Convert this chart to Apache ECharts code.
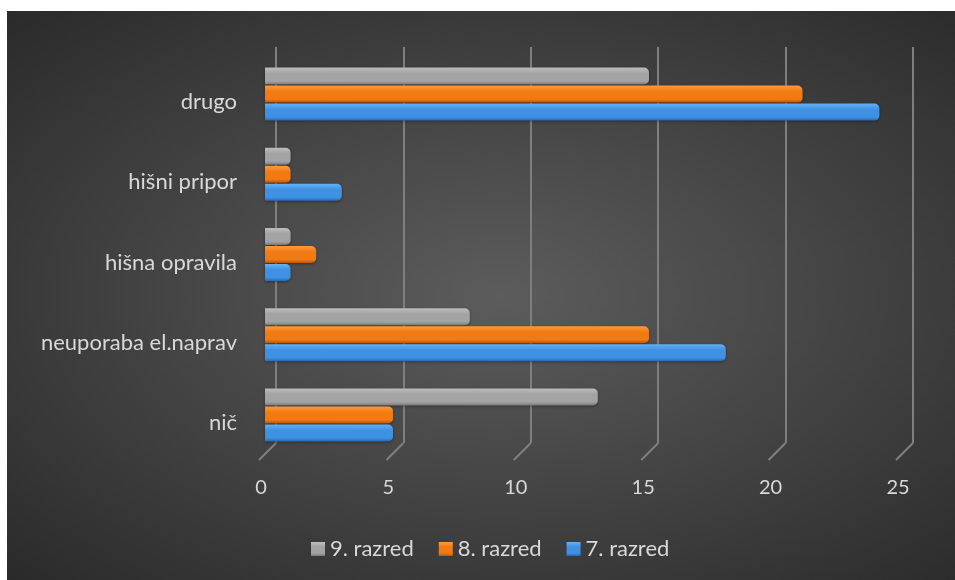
<!DOCTYPE html>
<html>
<head>
<meta charset="utf-8">
<script src="https://cdn.jsdelivr.net/npm/echarts@6/dist/echarts.min.js"></script>
<style>
  html, body { margin: 0; padding: 0; background: #ffffff; width: 955px; height: 580px; overflow: hidden; }
  #chart { position: absolute; left: 7px; top: 11px; width: 948px; height: 569px;
    background: radial-gradient(ellipse at 52% 50%, #5c5c5c 0%, #464646 45%, #2a2a2a 100%); }
</style>
</head>
<body>
<div id="chart"></div>
<script>
// Categories bottom -> top
const categories = ['nič', 'neuporaba el.naprav', 'hišna opravila', 'hišni pripor', 'drugo'];
const razred9 = [13, 8, 1, 1, 15];
const razred8 = [5, 15, 2, 1, 21];
const razred7 = [5, 18, 1, 3, 24];
const seriesNames = ['9. razred', '8. razred', '7. razred'];
const xTicks = [0, 5, 10, 15, 20, 25];

const FONT = 'Lato';
const TEXT = '#d9d9d9';

function grad(top, mid, bottom) {
  return new echarts.graphic.LinearGradient(0, 0, 0, 1, [
    { offset: 0, color: top },
    { offset: 0.35, color: mid },
    { offset: 0.8, color: mid },
    { offset: 1, color: bottom }
  ]);
}
const colors = [
  grad('#bdbdbd', '#a3a3a3', '#7a7a7a'),
  grad('#ff9a3c', '#f27a12', '#b8560a'),
  grad('#63b0f5', '#3f91e3', '#2a67ab')
];
const dataSets = [razred9, razred8, razred7];

const chart = echarts.init(document.getElementById('chart'));
chart.setOption({
  backgroundColor: 'transparent',
  animation: false,
  textStyle: { fontFamily: FONT },
  legend: {
    data: seriesNames,
    left: 304,
    top: 527,
    padding: 0,
    itemWidth: 14,
    itemHeight: 14,
    itemGap: 25,
    icon: 'rect',
    textStyle: { color: TEXT, fontSize: 22, fontFamily: FONT }
  },
  grid: [
    { left: 258, right: 50, top: 43, bottom: 125, containLabel: false },
    { left: 269, right: 42, top: 36, bottom: 137, containLabel: false }
  ],
  xAxis: [
    { gridIndex: 0, type: 'value', min: 0, max: 25, interval: 5,
      axisLine: { show: false }, axisTick: { show: false }, axisLabel: { show: false }, splitLine: { show: false } },
    { gridIndex: 1, type: 'value', min: 0, max: 25, interval: 5,
      axisLine: { show: false }, axisTick: { show: false },
      axisLabel: { color: TEXT, fontSize: 20, fontFamily: FONT, margin: 35, padding: [0, 30, 0, 0],
        formatter: function (v) { return xTicks.indexOf(v) >= 0 ? String(v) : ''; } },
      splitLine: { show: true, lineStyle: { color: '#7f7f7f', width: 2 } } }
  ],
  yAxis: [
    { gridIndex: 0, type: 'category', data: categories,
      axisLine: { show: false }, axisTick: { show: false }, splitLine: { show: false },
      axisLabel: { color: TEXT, fontSize: 22, fontFamily: FONT, margin: 28,
        verticalAlign: 'top', lineHeight: 16 } },
    { gridIndex: 1, type: 'value', min: 0, max: 1, show: false }
  ],
  series: [
    {
      type: 'custom',
      xAxisIndex: 1, yAxisIndex: 1,
      silent: true,
      data: xTicks.map(function (t) { return [t, 0]; }),
      renderItem: function (params, api) {
        const p = api.coord([api.value(0), api.value(1)]);
        return {
          type: 'line',
          shape: { x1: p[0], y1: p[1], x2: p[0] - 17, y2: p[1] + 17 },
          style: { stroke: '#7f7f7f', lineWidth: 2 }
        };
      },
      z: 1
    }
  ].concat(seriesNames.map(function (name, i) {
    return {
      name: name,
      type: 'bar',
      xAxisIndex: 0, yAxisIndex: 0,
      data: dataSets[i],
      barWidth: 17,
      barGap: '6%',
      z: 5,
      itemStyle: {
        color: colors[i],
        borderRadius: [0, 5, 5, 0],
        shadowColor: 'rgba(0,0,0,0.35)',
        shadowBlur: 3,
        shadowOffsetY: 1
      }
    };
  }))
});
</script>
</body>
</html>
